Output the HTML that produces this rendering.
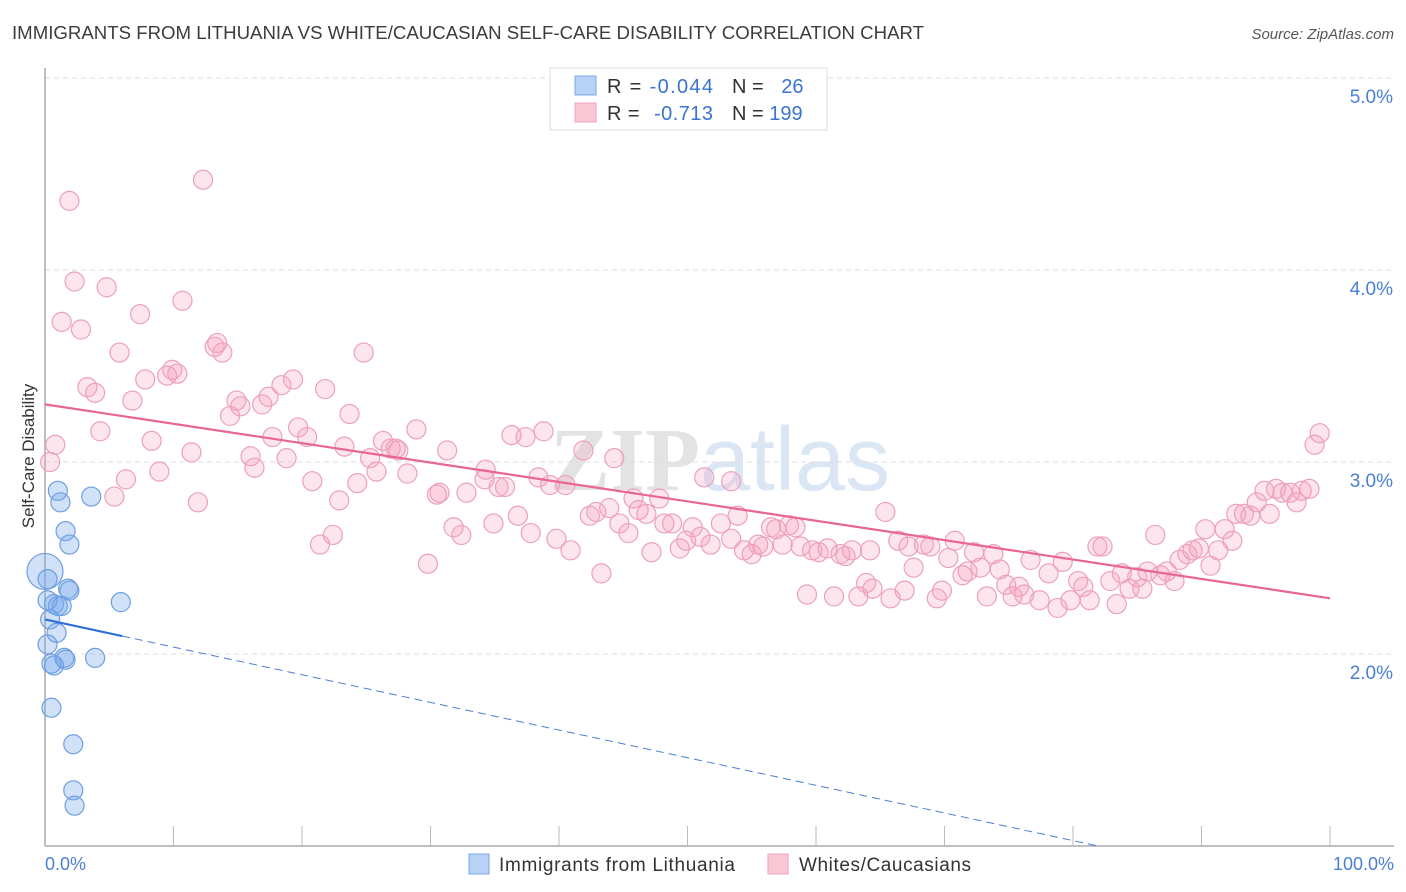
<!DOCTYPE html>
<html><head><meta charset="utf-8"><style>
body{margin:0;background:#fff;font-family:"Liberation Sans",sans-serif;}
svg{display:block}
</style></head><body>
<svg id="chart" width="1406" height="892" xmlns="http://www.w3.org/2000/svg">
<text x="12" y="39" font-size="18" fill="#3c3c3c" textLength="912" lengthAdjust="spacingAndGlyphs">IMMIGRANTS FROM LITHUANIA VS WHITE/CAUCASIAN SELF-CARE DISABILITY CORRELATION CHART</text>
<text x="1394" y="39" font-size="15" fill="#555" font-style="italic" text-anchor="end">Source: ZipAtlas.com</text>
<text x="720" y="490" font-size="90" fill="#e6ebf3" text-anchor="middle" font-weight="bold"><tspan fill="#e3e3e3" font-family="Liberation Serif">ZIP</tspan><tspan fill="#dbe6f5" font-weight="normal">atlas</tspan></text>
<g id="grid"></g>
<line x1="45" y1="68" x2="45" y2="846" stroke="#aaa" stroke-width="1.5"/>
<line x1="45" y1="846" x2="1394" y2="846" stroke="#aaa" stroke-width="1.5"/>
<g id="xticks"></g>
<text x="45" y="870" font-size="18" fill="#4a7fd6">0.0%</text>
<text x="1394" y="870" font-size="18" fill="#4a7fd6" text-anchor="end">100.0%</text>
<g id="ylabels"></g>
<text transform="translate(34,456) rotate(-90)" font-size="17" fill="#333" text-anchor="middle">Self-Care Disability</text>
<g id="pink"></g>
<g id="blue"></g>
<g id="trends"></g>
<g>
<rect x="550" y="68" width="277" height="62" fill="#fff" stroke="#ddd"/>
<rect x="575" y="76" width="21" height="19" fill="#b7d2f5" stroke="#7aa7e6"/>
<rect x="575" y="103" width="21" height="19" fill="#f9c7d6" stroke="#eda3bc"/>
<text x="607" y="93" font-size="20" fill="#333" textLength="106">R = <tspan fill="#3a74d0">-0.044</tspan></text>
<text x="732" y="93" font-size="20" fill="#333">N = <tspan fill="#3a74d0" dx="12">26</tspan></text>
<text x="607" y="120" font-size="20" fill="#333" textLength="106">R = <tspan fill="#3a74d0" dx="8">-0.713</tspan></text>
<text x="732" y="120" font-size="20" fill="#333">N = <tspan fill="#3a74d0">199</tspan></text>
</g>
<g>
<rect x="469" y="854" width="20" height="20" fill="#b7d2f5" stroke="#7aa7e6"/>
<text x="499" y="871" font-size="19" fill="#333" textLength="236">Immigrants from Lithuania</text>
<rect x="768" y="854" width="20" height="20" fill="#f9c7d6" stroke="#eda3bc"/>
<text x="799" y="871" font-size="19" fill="#333" textLength="172">Whites/Caucasians</text>
</g>
</svg>
<script>
const yTicks=[2,3,4,5];
const yTickLabels=["2.0%","3.0%","4.0%","5.0%"];
const xTickValues=[10,20,30,40,50,60,70,80,90,100];
const blueX=[1.0,1.2,3.6,1.6,1.9,0,1.8,1.9,0.7,1.0,1.3,5.9,0.4,0.9,0.2,1.5,1.6,3.9,0.7,0.5,2.2,2.2,2.3,0.2,0.2,0.5];
const blueY=[2.85,2.79,2.82,2.64,2.57,2.43,2.34,2.33,2.26,2.25,2.25,2.27,2.18,2.11,2.05,1.98,1.97,1.98,1.94,1.72,1.53,1.29,1.21,2.39,2.28,1.95];
const blueBig=[0,0,0,0,0,1,0,0,0,0,0,0,0,0,0,0,0,0,0,0,0,0,0,0,0,0];
const pinkX=[1.9,12.3,2.3,4.8,10.7,1.3,2.8,7.4,5.8,13.2,13.8,13.4,24.8,3.3,3.9,7.8,9.9,9.5,10.3,6.8,18.4,19.3,21.8,14.9,15.2,16.9,17.4,14.4,23.7,4.3,0.8,8.3,11.4,17.7,19.7,20.4,23.3,26.3,26.9,27.3,28.9,27.5,31.3,0.4,6.3,8.9,16.0,16.3,18.8,25.3,25.8,28.2,30.7,30.5,32.8,34.2,34.3,35.3,35.8,36.3,37.4,38.8,41.9,44.3,38.4,39.3,40.5,5.4,11.9,20.8,24.3,22.9,21.4,22.4,29.8,31.8,32.4,34.9,36.8,37.8,39.8,40.9,42.4,42.9,43.9,43.3,44.7,45.4,45.8,46.2,46.8,47.8,48.2,48.8,47.2,49.4,49.9,50.4,51.0,51.8,51.3,53.4,52.6,53.4,53.9,54.4,55.0,55.5,55.9,56.5,56.9,57.4,57.9,58.4,58.8,59.3,59.7,60.2,60.9,61.4,61.9,62.3,62.8,63.3,63.9,64.4,64.2,65.4,65.8,66.4,66.9,67.2,67.6,68.4,68.9,69.4,69.8,70.3,70.8,71.4,71.8,72.3,72.8,73.3,73.8,74.3,74.8,75.3,75.8,76.2,76.7,77.4,78.1,78.8,79.2,79.8,80.4,80.8,81.3,81.9,82.3,82.9,83.4,83.8,84.4,85.0,85.4,85.8,86.4,86.8,87.3,87.9,88.3,88.9,89.3,89.8,90.3,90.7,91.3,91.8,92.4,92.7,93.3,93.8,94.3,94.9,95.3,95.8,96.3,96.9,97.4,97.8,98.4,98.8,99.2];
const pinkY=[4.36,4.47,3.94,3.91,3.84,3.73,3.69,3.77,3.57,3.60,3.57,3.62,3.57,3.39,3.36,3.43,3.48,3.45,3.46,3.32,3.40,3.43,3.38,3.32,3.29,3.30,3.34,3.24,3.25,3.16,3.09,3.11,3.05,3.13,3.18,3.13,3.08,3.11,3.07,3.07,3.17,3.06,3.06,3.00,2.91,2.95,3.03,2.97,3.02,3.02,2.95,2.94,2.84,2.83,2.84,2.91,2.96,2.87,2.87,3.14,3.13,3.16,3.06,3.02,2.92,2.88,2.88,2.82,2.79,2.90,2.89,2.80,2.57,2.62,2.47,2.66,2.62,2.68,2.72,2.63,2.60,2.54,2.72,2.74,2.76,2.42,2.68,2.63,2.81,2.75,2.73,2.81,2.68,2.68,2.53,2.55,2.59,2.66,2.61,2.57,2.92,2.90,2.68,2.60,2.72,2.54,2.52,2.57,2.56,2.66,2.65,2.57,2.67,2.66,2.56,2.31,2.54,2.53,2.55,2.30,2.52,2.51,2.54,2.30,2.37,2.34,2.54,2.74,2.29,2.59,2.33,2.56,2.45,2.57,2.56,2.29,2.33,2.50,2.59,2.41,2.43,2.53,2.45,2.30,2.52,2.44,2.36,2.30,2.35,2.31,2.49,2.28,2.42,2.24,2.48,2.28,2.38,2.35,2.28,2.56,2.56,2.38,2.26,2.42,2.34,2.40,2.34,2.43,2.62,2.41,2.43,2.38,2.49,2.52,2.54,2.55,2.65,2.46,2.54,2.65,2.59,2.73,2.73,2.72,2.79,2.85,2.73,2.86,2.84,2.84,2.79,2.85,2.86,3.09,3.15];
const pinkTrend=[3.30,2.29];
const blueTrend=[2.18,-0.0144];
const blueSolidEnd=6;

const NS="http://www.w3.org/2000/svg";
const sx=v=>45+v*12.85;
const sy=v=>1038-v*192;
function mk(tag,attrs,parent){const e=document.createElementNS(NS,tag);for(const k in attrs)e.setAttribute(k,attrs[k]);parent.appendChild(e);return e;}
const grid=document.getElementById('grid'),yl=document.getElementById('ylabels'),xt=document.getElementById('xticks');
yTicks.forEach((t,i)=>{
 const l=mk('line',{x1:45,x2:1394,y1:sy(t),y2:sy(t),stroke:'#ddd','stroke-dasharray':'5,4'},grid);
 
 
 const tx=mk('text',{x:1393,y:sy(t)+25,'font-size':19,fill:'#4a7fd6','text-anchor':'end'},yl);
 tx.textContent=yTickLabels[i];
 
 
});
xTickValues.forEach(v=>{
 const l=mk('line',{x1:sx(v),x2:sx(v),y1:826,y2:846,stroke:'#bbb'},xt);
 
 
});
const pg=document.getElementById('pink');
pinkX.forEach((x,i)=>{
 const c=mk('circle',{cx:sx(x),cy:sy(pinkY[i]),r:9.5,fill:'rgba(244,160,190,0.28)',stroke:'#eda0ba','stroke-width':1.2},pg);
 
 
});
const bg=document.getElementById('blue');
blueX.forEach((x,i)=>{
 const c=mk('circle',{cx:sx(x),cy:sy(blueY[i]),r:blueBig[i]?18:9.5,fill:'rgba(120,170,235,0.35)',stroke:'#6e9fe2','stroke-width':1.2},bg);
 
 
});
const tg=document.getElementById('trends');
const pl=mk('line',{x1:sx(0),y1:sy(pinkTrend[0]),x2:sx(100),y2:sy(pinkTrend[1]),stroke:'#e8668f','stroke-width':2.2},tg);


const bl=mk('line',{x1:sx(0),y1:sy(blueTrend[0]),x2:sx(blueSolidEnd),y2:sy(blueTrend[0]+blueTrend[1]*blueSolidEnd),stroke:'#2f6fd6','stroke-width':2.2},tg);


const xEnd=(1-blueTrend[0])/blueTrend[1];
const bd=mk('line',{x1:sx(blueSolidEnd),y1:sy(blueTrend[0]+blueTrend[1]*blueSolidEnd),x2:sx(xEnd),y2:sy(1),stroke:'#4a7fd6','stroke-width':1,'stroke-dasharray':'8,5'},tg);


</script>
</body></html>
